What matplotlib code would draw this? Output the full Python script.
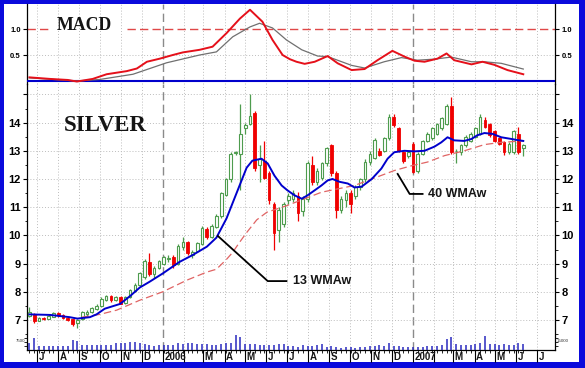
import matplotlib
matplotlib.use('Agg')
import matplotlib.pyplot as plt
import matplotlib.dates as mdates
import matplotlib.transforms as mtransforms
from matplotlib.patches import Rectangle
import numpy as np
import pandas as pd

# ---------------- data (weekly silver) ----------------
first_week = '2005-06-20'
n_weeks = 104
opens = [7.15,7.22,6.98,7.08,7.05,7.12,7.25,7.18,7.08,7.02,
         6.88,7.02,7.22,7.28,7.40,7.48,7.72,7.85,7.72,7.80,
         7.60,7.80,8.02,8.25,8.52,9.05,8.62,8.85,9.00,9.15,
         9.22,9.00,9.58,9.75,9.30,9.45,9.70,10.22,9.95,10.30,
         10.68,11.45,12.00,12.92,12.90,13.80,13.95,14.35,12.50,12.65,
         12.20,11.13,10.20,10.40,11.25,11.30,11.40,10.85,11.30,12.50,
         11.90,12.05,12.55,13.20,12.20,10.90,11.25,11.50,11.40,11.70,
         12.00,12.60,12.75,13.00,13.00,13.45,14.20,13.80,12.95,12.80,
         13.25,12.30,12.90,13.35,13.45,13.60,13.80,13.95,14.60,13.00,
         12.95,13.20,13.35,13.50,13.60,14.10,13.95,13.70,13.45,13.30,
         12.95,12.95,13.60,13.10]
highs = [7.45,7.25,7.12,7.10,7.20,7.30,7.30,7.22,7.12,7.05,
         7.05,7.32,7.35,7.45,7.55,7.80,7.90,7.90,7.85,7.85,
         7.85,8.10,8.30,8.70,9.15,9.37,8.90,9.12,9.28,9.30,
         9.30,9.68,9.93,9.80,9.50,9.78,10.35,10.30,10.40,10.75,
         11.55,12.05,12.95,13.00,14.65,14.00,15.00,14.40,13.20,13.36,
         12.30,11.20,11.00,11.20,11.50,11.60,11.55,11.40,12.65,12.80,
         12.40,12.60,13.15,13.25,12.30,11.40,11.60,11.60,11.80,12.05,
         12.70,13.00,13.45,13.10,13.50,14.30,14.30,13.85,13.00,13.00,
         13.30,12.95,13.40,13.65,13.85,14.00,14.20,14.65,14.90,13.05,
         13.25,13.55,13.65,13.85,14.30,14.20,14.00,13.75,13.50,13.35,
         13.30,13.75,13.85,13.25]
lows = [7.10,6.90,6.95,7.00,7.02,7.10,7.12,7.05,6.95,6.80,
        6.72,7.00,7.15,7.25,7.35,7.45,7.68,7.65,7.68,7.55,
        7.55,7.78,7.98,8.20,8.45,8.55,8.50,8.80,8.95,9.05,
        8.85,8.95,9.50,9.30,9.20,9.40,9.65,9.88,9.90,10.25,
        10.60,11.40,11.90,12.85,11.60,13.60,13.90,12.30,11.90,12.00,
        11.10,9.47,9.75,10.30,11.10,11.20,10.50,10.70,11.20,11.80,
        11.80,11.95,12.45,12.10,10.60,10.80,11.00,10.80,11.30,11.60,
        11.90,12.50,12.70,12.80,12.95,13.40,13.85,12.95,12.55,12.75,
        12.20,12.20,12.85,13.30,13.40,13.55,13.75,13.90,12.90,12.55,
        12.85,13.15,13.30,13.45,13.55,13.80,13.50,13.30,13.20,12.85,
        12.90,12.90,12.90,12.80]
closes = [7.30,6.95,7.08,7.03,7.15,7.25,7.18,7.08,7.00,6.85,
          7.00,7.28,7.30,7.42,7.50,7.75,7.85,7.72,7.80,7.58,
          7.80,8.05,8.25,8.65,9.10,8.62,8.85,9.08,9.22,9.20,
          8.94,9.62,9.75,9.37,9.40,9.72,10.28,9.95,10.35,10.68,
          11.50,12.00,12.90,12.95,13.60,13.90,14.25,12.40,12.70,12.05,
          11.25,10.10,10.90,11.10,11.40,11.50,10.80,11.30,12.55,11.90,
          12.30,12.55,13.10,12.20,10.90,11.30,11.50,11.10,11.70,12.00,
          12.60,12.90,13.40,12.85,13.45,14.20,13.90,13.00,12.65,12.95,
          12.25,12.90,13.35,13.60,13.80,13.95,14.15,14.60,12.95,13.00,
          13.20,13.50,13.60,13.80,14.20,13.85,13.55,13.35,13.25,12.95,
          13.25,13.70,12.95,13.20]
volume = [35,60,20,20,20,20,20,20,20,50,
          45,25,25,25,25,25,25,25,35,35,
          35,40,40,35,30,25,20,25,25,25,
          25,35,30,35,35,30,30,30,25,25,
          30,35,35,75,65,30,30,30,25,25,
          25,25,30,30,20,20,15,25,20,20,
          25,30,15,20,15,10,15,15,10,15,
          15,20,20,25,20,35,20,20,15,15,
          15,15,15,20,20,20,25,55,65,30,
          25,25,25,30,35,70,30,30,25,30,
          25,25,35,30]

# moving averages and MACD (vertices, x in week number)
ma13_week = [0,4.3,8.4,10,12.6,14,15.7,18.9,21,23,25,27.8,31.3,34,37,39,41.1,43.2,45.3,46.5,
             48.4,49.7,51.1,52.6,53.8,55.3,56.8,58,59.5,60.9,62.2,63.2,64.7,66.4,67.8,69.3,71.4,73.4,74.7,76.1,
             78.2,80.3,82.4,84.5,85.9,87.2,88.6,90.7,92.2,93.4,94.9,96.6,98.4,100.5,101.8,103]
ma13_val = [7.2,7.18,7.1,7.05,7.1,7.2,7.4,7.57,7.85,8.15,8.35,8.65,9.06,9.3,9.6,9.92,10.6,11.5,12.4,12.65,
            12.72,12.55,12.12,11.77,11.6,11.42,11.3,11.42,11.6,11.77,11.95,12.0,11.9,11.84,11.7,11.73,12.0,12.37,12.72,12.95,
            13.0,12.98,13.0,13.15,13.3,13.48,13.37,13.35,13.42,13.55,13.63,13.6,13.48,13.42,13.38,13.35]
ma40_week = [10.9,14.7,18.2,23,27.8,32.8,37,39,41.1,42.4,43.8,45.3,47.4,49.5,53.6,57.4,60.9,64.3,67.8,71.4,
             76.1,79.7,83,86.6,90.7,94.9,98.4,103]
ma40_val = [7.1,7.2,7.35,7.7,8.0,8.41,8.7,8.8,9.15,9.4,9.75,10.1,10.55,10.82,11.05,11.3,11.53,11.65,11.77,12.0,
            12.3,12.47,12.6,12.83,13.0,13.22,13.3,13.35]
macd_week = [0,4.3,8,9.9,13.2,16.1,20.3,22.4,24.5,27.2,29.9,32,35.5,38.2,41.1,43.9,46,48.6,50.7,52.8,
             54.3,55.7,57.4,59.5,62.2,64.3,67.2,69.9,72.6,75.7,78.2,80.3,82.4,85.1,87,88.6,92.2,94.5,97,99.7,103]
macd_val = [0.07,0.04,0.02,-0.01,0.04,0.13,0.19,0.24,0.37,0.43,0.5,0.55,0.6,0.66,0.92,1.2,1.37,1.14,0.79,0.5,
            0.42,0.37,0.33,0.37,0.48,0.34,0.21,0.23,0.4,0.58,0.47,0.39,0.37,0.43,0.53,0.4,0.32,0.37,0.31,0.21,0.13]
signal_week = [0,9.9,14.7,21.6,28.6,35.5,39,42.4,46,48,50.7,53.6,56.8,60.1,62.2,67.2,69.9,74,77.6,80.9,
               84.4,88,92.2,94.9,98.4,103]
signal_val = [0.06,0.0,0.03,0.13,0.35,0.5,0.56,0.85,1.04,1.11,1.02,0.79,0.6,0.48,0.47,0.3,0.25,0.37,0.45,0.4,
              0.42,0.46,0.37,0.37,0.34,0.23]

price_ticks = [7, 8, 9, 10, 11, 12, 13, 14]
macd_ticks = [0.5, 1.0]

# ---------------- figure ----------------
W, H = 585, 368
fig = plt.figure(figsize=(W / 100, H / 100), dpi=100)
BLUE = '#0A0ADC'
fig.patch.set_facecolor(BLUE)
fig.add_artist(Rectangle((4 / W, 1 - 362 / H), 575 / W, 358 / H, transform=fig.transFigure,
                         facecolor='white', edgecolor='none', zorder=0))

def fy(py):
    return 1 - py / H

L, R = 27, 555
ax_m = fig.add_axes([L / W, fy(84), (R - L) / W, 80 / H])
ax_p = fig.add_axes([L / W, fy(350), (R - L) / W, 266 / H])
ax_v = fig.add_axes([L / W, fy(350), (R - L) / W, 17 / H])
for a in (ax_m, ax_p, ax_v):
    a.patch.set_alpha(0)

x0 = mdates.date2num(pd.Timestamp(first_week))
def wk(a):
    return x0 + 7 * np.asarray(a, dtype=float)

bar_x = wk(np.arange(n_weeks))
o, h, l, c = map(np.asarray, (opens, highs, lows, closes))

jan06 = mdates.date2num(pd.Timestamp('2006-01-01'))
jan07 = mdates.date2num(pd.Timestamp('2007-01-01'))
ppd = 250 / 365.0
xl = jan06 - (163 - 27) / ppd
xr = jan07 + (555 - 413) / ppd
for a in (ax_m, ax_p, ax_v):
    a.set_xlim(xl, xr)

ax_p.set_ylim(7 - 30 / 28.2, 7 + 236 / 28.2)
ax_m.set_ylim(-3 / 52.0, 77 / 52.0)

months = pd.date_range('2005-07-01', '2007-07-01', freq='MS')
month_x = mdates.date2num(months)

GRID = '#BDBDBD'
for a, ylo in ((ax_m, None), (ax_p, None)):
    for mx, m in zip(month_x, months):
        if m.month == 1:
            a.axvline(mx, color='#8A8A8A', lw=1.0, ls=(0, (6, 3)), zorder=1)
        else:
            a.axvline(mx, color=GRID, lw=0.7, ls=(0, (1, 2)), zorder=1)
for v in range(7, 16):
    ax_p.axhline(v, color=GRID, lw=0.7, ls=(0, (1, 2)), zorder=1)
ax_m.axhline(0.5, color=GRID, lw=0.7, ls=(0, (1, 2)), zorder=1)

# ---------------- MACD panel ----------------
def px2x(px):
    return jan06 + (px - 163) / ppd
ax_m.plot([xl, px2x(50)], [1.0, 1.0], color='#E04848', lw=1.0, ls=(0, (6, 3)), zorder=2)
ax_m.plot([px2x(127), xr], [1.0, 1.0], color='#E04848', lw=1.0, ls=(0, (6, 3)), zorder=2)
ax_m.axhline(0, color='#0000CC', lw=1.5, zorder=3)
ax_m.plot(wk(signal_week), signal_val, color='#707070', lw=0.9, zorder=4)
ax_m.plot(wk(macd_week), macd_val, color='#E5101A', lw=1.4, zorder=5)
ax_m.text(px2x(84.5), 1.06, 'MACD', ha='center', va='center', fontsize=12.8,
          family='Liberation Serif', weight='bold', color='#151515', zorder=6)

# ---------------- price panel ----------------
GREEN = '#4E9C4E'
RED = '#F00000'
up = c >= o
ax_p.vlines(bar_x, l, h, colors=np.where(up, GREEN, RED), lw=0.9, zorder=3)
ax_p.bar(bar_x[up], (c - o)[up], bottom=o[up], width=3.9, facecolor='white',
         edgecolor=GREEN, lw=0.8, zorder=4)
ax_p.bar(bar_x[~up], (o - c)[~up], bottom=c[~up], width=3.9, facecolor=RED,
         edgecolor=RED, lw=0.6, zorder=4)
ax_p.plot(wk(ma40_week), ma40_val, color='#E06464', lw=0.9, ls=(0, (6, 3)), zorder=5)
ax_p.plot(wk(ma13_week), ma13_val, color='#0000CC', lw=1.4, zorder=6)

ax_p.text(px2x(105), 13.91, 'SILVER', ha='center', va='center', fontsize=16.5,
          family='Liberation Serif', weight='bold', color='#151515', zorder=7)

# annotations
ax_p.plot(wk([39.3, 49.7, 53.6]), [9.98, 8.38, 8.38], color='black', lw=1.3, zorder=7)
ax_p.text(wk(54.9), 8.38, '13 WMAw', ha='left', va='center', fontsize=9,
          family='Liberation Sans', weight='bold', color='#151515', zorder=7)
ax_p.plot(wk([76.8, 79.3, 82.0]), [12.18, 11.47, 11.47], color='black', lw=1.3, zorder=7)
ax_p.text(wk(83.1), 11.47, '40 WMAw', ha='left', va='center', fontsize=9,
          family='Liberation Sans', weight='bold', color='#151515', zorder=7)

# ---------------- volume ----------------
ax_v.set_ylim(0, 85)
ax_v.vlines(bar_x, 0, volume, colors='#2A2ABE', lw=1.1, zorder=3)
for s in ax_v.spines.values():
    s.set_visible(False)
ax_v.set_xticks([])
ax_v.set_yticks([20, 40, 60])
ax_v.tick_params(axis='y', length=2, width=0.6, labelleft=False, left=True, right=True, direction='out')
ax_v.text(-0.004, 0.55, '7500', transform=ax_v.transAxes, ha='right', va='center',
          fontsize=3.2, family='Liberation Sans', color='#333333')
ax_v.text(1.004, 0.55, '15000', transform=ax_v.transAxes, ha='left', va='center',
          fontsize=3.2, family='Liberation Sans', color='#333333')

# ---------------- axes styling ----------------
for a in (ax_m, ax_p):
    for s in ('left', 'right'):
        a.spines[s].set_color('black')
        a.spines[s].set_linewidth(0.9)
    a.spines['top'].set_visible(False)
ax_m.spines['bottom'].set_visible(False)
ax_p.spines['bottom'].set_linewidth(0.9)

ax_p.set_yticks(price_ticks + [15])
ax_p.set_yticklabels([str(t) for t in price_ticks] + [''])
ax_p.set_yticks(np.arange(6.5, 15.5, 1.0), minor=True)
ax_p.tick_params(axis='y', which='major', left=True, right=True, labelleft=True, labelright=True,
                 length=3, width=0.8, pad=1.5, labelsize=8, direction='out')
ax_p.tick_params(axis='y', which='minor', left=True, right=True, length=1.8, width=0.6, direction='out')
for lab in ax_p.get_yticklabels():
    lab.set_fontfamily('Liberation Sans'); lab.set_fontweight('bold')

ax_m.set_yticks(macd_ticks)
ax_m.set_yticklabels(['0.5', '1.0'])
ax_m.tick_params(axis='y', left=True, right=True, labelleft=True, labelright=True,
                 length=3, width=0.8, pad=1.5, labelsize=5.5, direction='out')
for lab in ax_m.get_yticklabels():
    lab.set_fontfamily('Liberation Sans'); lab.set_fontweight('bold')
ax_m.set_xticks([])

ax_p.set_xticks(month_x)
ax_p.set_xticklabels([])
ax_p.set_xticks(bar_x, minor=True)
ax_p.tick_params(axis='x', which='major', length=8.5, width=0.8, direction='out')
ax_p.tick_params(axis='x', which='minor', length=2.2, width=0.6, direction='out')

trans = mtransforms.blended_transform_factory(ax_p.transData, fig.transFigure)
for mx, m in zip(month_x, months):
    if m.month == 1:
        lab = str(m.year)
    elif m.month == 2:
        lab = ''
    else:
        lab = m.strftime('%B')[0]
    if lab:
        ax_p.text(mx + 2.0, fy(356.5), lab, transform=trans, ha='left', va='center',
                  fontsize=7, family='Liberation Sans', weight='bold', color='#151515', clip_on=False)

fig.savefig('out.png', dpi=100, facecolor=fig.get_facecolor())
